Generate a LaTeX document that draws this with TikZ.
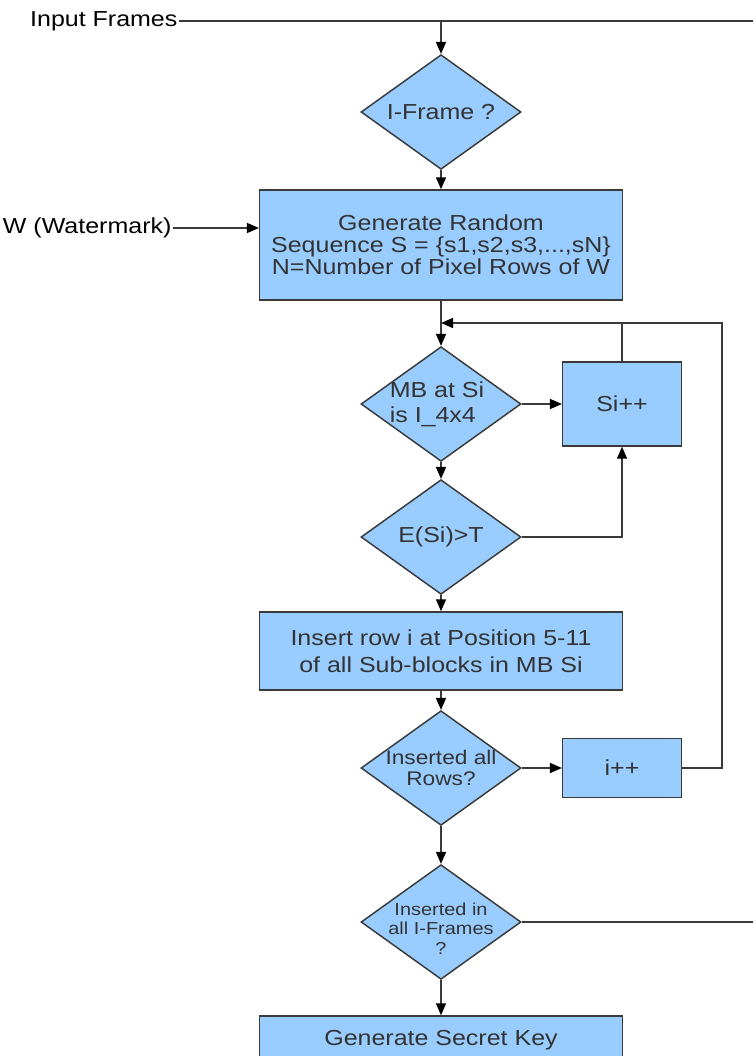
\documentclass[tikz,border=0pt]{standalone}
\usepackage{fontspec}
\setmainfont{Liberation Sans}[FakeStretch=1.15]
\usetikzlibrary{shapes, arrows.meta, positioning}
\definecolor{boxblue}{HTML}{99CCFF}
\definecolor{edgegray}{HTML}{3A3A3A}
\definecolor{txtgray}{HTML}{333333}
\newcommand{\flowtxt}{\fontsize{16.3}{16.5}\selectfont}
\tikzstyle{inlabel} = [text=black, font=\flowtxt, inner sep=1pt]
\tikzstyle{process} = [draw=edgegray, fill=boxblue, line width=1.1pt, rectangle, text=txtgray, font=\flowtxt, align=center, inner sep=0pt, minimum width=272pt]
\tikzstyle{counter} = [process, minimum width=89pt]
\tikzstyle{decision} = [draw=edgegray, fill=boxblue, line width=1.1pt, diamond, inner sep=0pt, minimum width=120pt, minimum height=86pt]
\tikzstyle{dtext} = [text=txtgray, font=\flowtxt, align=center]
\tikzstyle{flow} = [draw=edgegray, line width=1.1pt, -{Triangle[length=9pt, width=7.5pt, color=black]}]
\tikzstyle{link} = [draw=edgegray, line width=1.1pt]

\begin{document}
\begin{tikzpicture}[x=0.75pt, y=-0.75pt]
	\useasboundingbox (0,0) rectangle (753,1056);
	% inputs
	\node[inlabel, anchor=east] (frames) at (179,21) {Input Frames};
	\node[inlabel, anchor=east] (wmark) at (173,228) {W (Watermark)};
	\coordinate (frameend) at (753,21);
	% main column
	\node[decision, label={[dtext]center:I-Frame ?}] (iframe) at (441,112) {};
	\node[process, minimum height=82.5pt] (gen) at (441,245) {Generate Random\\Sequence S = \{s1,s2,s3,...,sN\}\\N=Number of Pixel Rows of W};
	\node[decision, label={[dtext, align=left, font=\fontsize{16.3}{19}\selectfont, xshift=-3pt]center:{MB at Si\\is I\_4x4}}] (mbsi) at (441,404) {};
	\node[decision, label={[dtext]center:E(Si)>T}] (esi) at (441,537) {};
	\node[process, minimum height=58.5pt, font=\fontsize{16.3}{20}\selectfont] (insrow) at (441,651) {Insert row i at Position 5-11\\of all Sub-blocks in MB Si};
	\node[decision, label={[dtext, font=\fontsize{14.8}{16}\selectfont]center:{Inserted all\\Rows?}}] (allrows) at (441,768) {};
	\node[decision, label={[dtext, font=\fontsize{13}{14.5}\selectfont, yshift=-5pt]center:{Inserted in\\all I-Frames\\?}}] (allframes) at (441,922) {};
	\node[process, minimum height=36pt] (key) at (441,1040) {Generate Secret Key};
	% side counters
	\node[counter, minimum height=63pt] (sinc) at (622,404) {Si++};
	\node[counter, minimum height=44pt] (iinc) at (622,768) {i++};
	\coordinate (looptop) at (722,323);
	% connectors
	\draw[link] (frames.east) -- (frameend);
	\draw[flow] (frames.east -| iframe.north) -- (iframe.north);
	\draw[flow] (iframe.south) -- (gen.north);
	\draw[flow] (wmark.east) -- (wmark.east -| gen.west);
	\draw[flow] (gen.south) -- (mbsi.north);
	\draw[flow] (mbsi.east) -- (sinc.west);
	\draw[flow] (mbsi.south) -- (esi.north);
	\draw[flow] (esi.east) -| (sinc.south);
	\draw[link] (sinc.north) -- (sinc.north |- looptop);
	\draw[flow] (esi.south) -- (insrow.north);
	\draw[flow] (insrow.south) -- (allrows.north);
	\draw[flow] (allrows.east) -- (iinc.west);
	\draw[flow] (iinc.east) -| (looptop) -- (looptop -| gen.south);
	\draw[flow] (allrows.south) -- (allframes.north);
	\draw[link] (allframes.east) -- (allframes.east -| frameend);
	\draw[flow] (allframes.south) -- (key.north);
\end{tikzpicture}
\end{document}
